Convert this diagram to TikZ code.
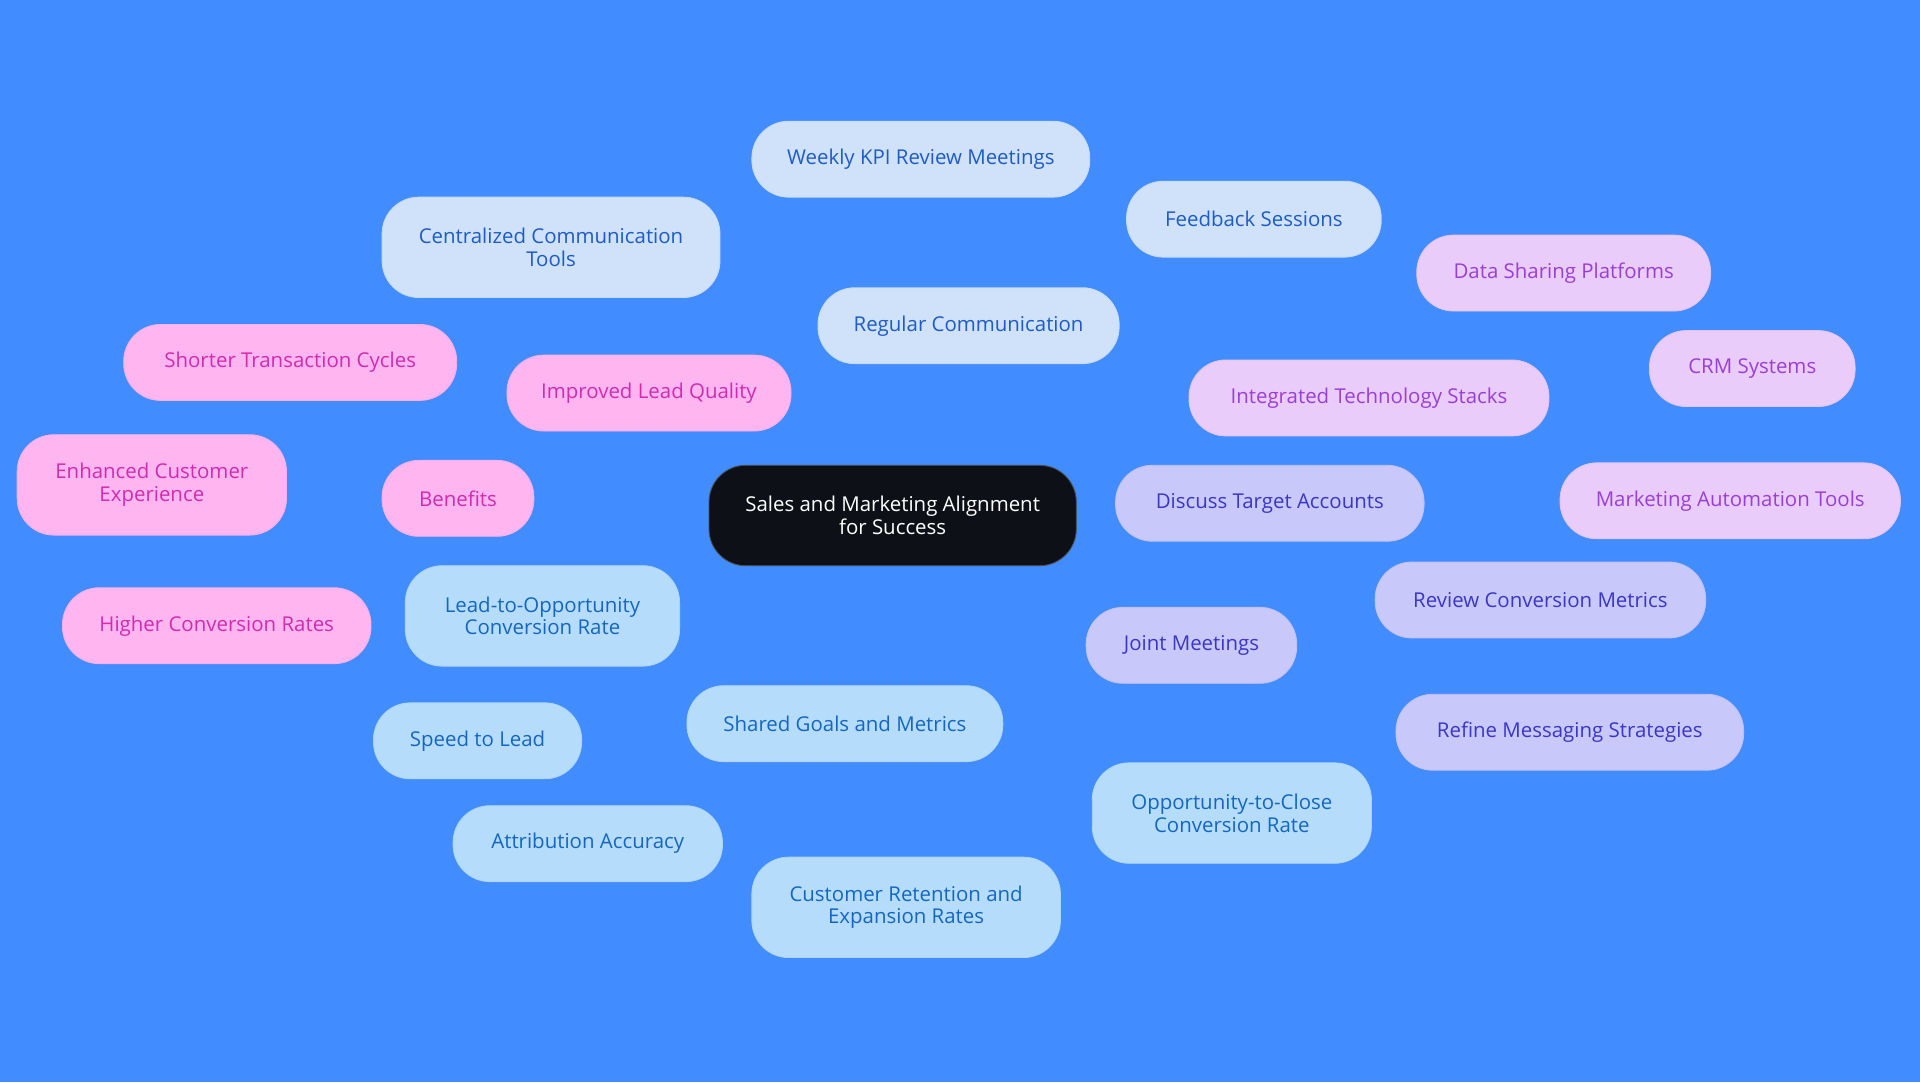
\documentclass[tikz,border=0pt]{standalone}
\usepackage{fontspec}
\setmainfont{Open Sans}
\usetikzlibrary{backgrounds}
\definecolor{bgblue}{HTML}{418CFF}
\definecolor{coreblack}{HTML}{0D1117}
\definecolor{commfill}{HTML}{CFE2FA}\definecolor{commtext}{HTML}{1E5BC6}
\definecolor{goalfill}{HTML}{B5DDFB}\definecolor{goaltext}{HTML}{1566C0}
\definecolor{benfill}{HTML}{FFB5F0}\definecolor{bentext}{HTML}{D02CB0}
\definecolor{techfill}{HTML}{E9CCFA}\definecolor{techtext}{HTML}{9A3FD6}
\definecolor{meetfill}{HTML}{C9C8FA}\definecolor{meettext}{HTML}{3A36C7}

\tikzset{
  box/.style={draw=#1fill!80!black!20!#1fill, fill=#1fill, text=#1text, rounded corners=0.6cm,
    minimum height=1.24cm, align=center, font=\fontsize{9.5}{10.5}\selectfont, inner sep=2pt},
  tall/.style={minimum height=1.64cm},
  link/.style={draw=#1fill, line width=1pt}
}

\begin{document}
\begin{tikzpicture}[x=0.02cm,y=-0.02cm]
  \fill[bgblue] (0,0) rectangle (1568,884);

  % centre
  \node[draw=black!70, fill=coreblack, text=white, rounded corners=0.6cm, align=center,
        minimum width=6cm, minimum height=1.64cm, font=\fontsize{9.5}{10.5}\selectfont]
        (core) at (729,421) {Sales and Marketing Alignment\\for Success};

  % communication
  \node[box=comm, minimum width=4.92cm] (comm) at (791,266) {Regular Communication};
  \node[box=comm, minimum width=5.52cm] (kpi) at (752,130) {Weekly KPI Review Meetings};
  \node[box=comm, tall, minimum width=5.52cm] (tools) at (450,202) {Centralized Communication\\Tools};
  \node[box=comm, minimum width=4.16cm] (feedback) at (1024,179) {Feedback Sessions};

  % technology
  \node[box=tech, minimum width=5.88cm] (tech) at (1118,325) {Integrated Technology Stacks};
  \node[box=tech, minimum width=4.8cm] (datashare) at (1277,223) {Data Sharing Platforms};
  \node[box=tech, minimum width=3.36cm] (crm) at (1431,301) {CRM Systems};
  \node[box=tech, minimum width=5.56cm] (automation) at (1413,409) {Marketing Automation Tools};

  % meetings
  \node[box=meet, minimum width=3.44cm] (meet) at (973,527) {Joint Meetings};
  \node[box=meet, minimum width=5.04cm] (accounts) at (1037,411) {Discuss Target Accounts};
  \node[box=meet, minimum width=5.4cm] (review) at (1258,490) {Review Conversion Metrics};
  \node[box=meet, minimum width=5.68cm] (refine) at (1282,598) {Refine Messaging Strategies};

  % goals
  \node[box=goal, minimum width=5.16cm] (goals) at (690,591) {Shared Goals and Metrics};
  \node[box=goal, tall, minimum width=4.48cm] (leadopp) at (443,503) {Lead-to-Opportunity\\Conversion Rate};
  \node[box=goal, minimum width=3.4cm] (speed) at (390,605) {Speed to Lead};
  \node[box=goal, minimum width=4.4cm] (attrib) at (480,689) {Attribution Accuracy};
  \node[box=goal, tall, minimum width=5.04cm] (retain) at (740,741) {Customer Retention and\\Expansion Rates};
  \node[box=goal, tall, minimum width=4.56cm] (oppclose) at (1006,664) {Opportunity-to-Close\\Conversion Rate};

  % benefits
  \node[box=ben, minimum width=2.48cm] (ben) at (374,407) {Benefits};
  \node[box=ben, minimum width=4.64cm] (quality) at (530,321) {Improved Lead Quality};
  \node[box=ben, minimum width=5.44cm] (cycles) at (237,296) {Shorter Transaction Cycles};
  \node[box=ben, tall, minimum width=4.4cm] (experience) at (124,396) {Enhanced Customer\\Experience};
  \node[box=ben, minimum width=5.04cm] (rates) at (177,511) {Higher Conversion Rates};

  \begin{scope}[on background layer]
    \fill[bgblue] (0,0) rectangle (1568,884);
    \draw[link=comm] (core.center) -- (comm.center);
    \foreach \n in {kpi,tools,feedback} \draw[link=comm] (comm.center) -- (\n.center);
    \draw[link=tech] (core.center) -- (tech.center);
    \foreach \n in {datashare,crm,automation} \draw[link=tech] (tech.center) -- (\n.center);
    \draw[link=meet] (core.center) -- (meet.center);
    \foreach \n in {accounts,review,refine} \draw[link=meet] (meet.center) -- (\n.center);
    \draw[link=goal] (core.center) -- (goals.center);
    \foreach \n in {leadopp,speed,attrib,retain,oppclose} \draw[link=goal] (goals.center) -- (\n.center);
    \draw[link=ben] (core.center) -- (ben.center);
    \foreach \n in {quality,cycles,experience,rates} \draw[link=ben] (ben.center) -- (\n.center);
  \end{scope}
\end{tikzpicture}
\end{document}
